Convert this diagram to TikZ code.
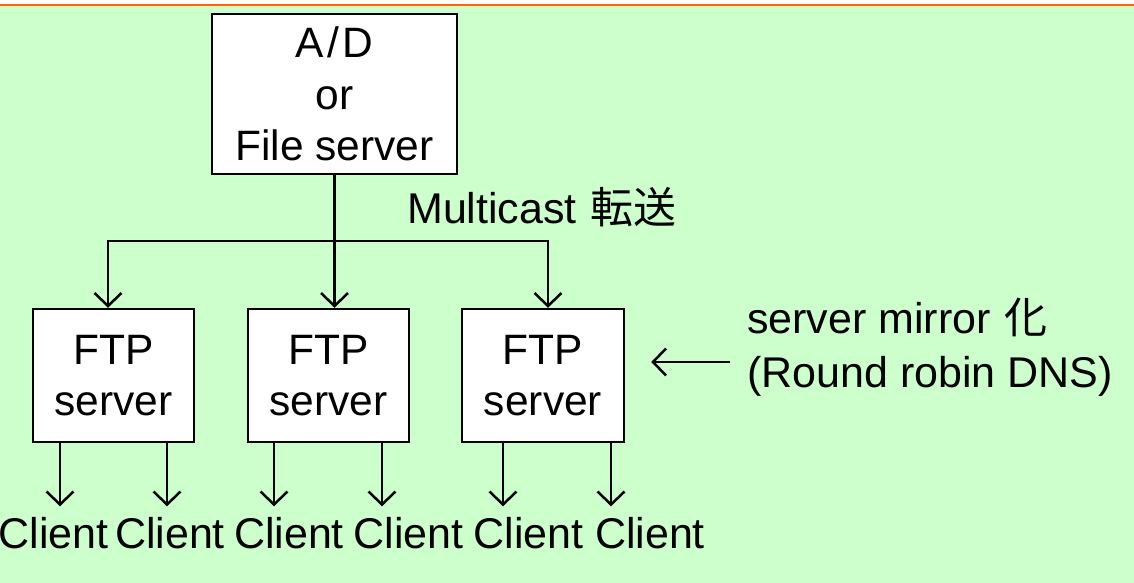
\documentclass[tikz,border=0pt]{standalone}
\usepackage{fontspec}
\setmainfont{Liberation Sans}
\newfontfamily\cjk{Noto Sans CJK JP}
\usetikzlibrary{arrows.meta}
\definecolor{bggreen}{RGB}{204,255,204}
\definecolor{topline}{RGB}{255,102,0}
\begin{document}
\begin{tikzpicture}[x=1pt,y=-1pt,
  lbl/.style={font=\fontsize{43}{52}\selectfont, inner sep=0pt},
  box/.style={draw=black, line width=2.5pt, fill=white, align=center,
    font=\fontsize{42.5}{51.5}\selectfont, inner sep=0pt},
  arr/.style={line width=2.5pt, -{Straight Barb[length=13pt,width=27pt]}},
  conn/.style={line width=2.5pt}]
\useasboundingbox (0,0) rectangle (1134,583);
\fill[white] (0,0) rectangle (1134,583);
\fill[bggreen] (0,5) rectangle (1134,583);
\draw[topline, line width=2.5pt] (0,5) -- (1134,5);

\node[box, minimum width=245pt, minimum height=160pt] (top) at (334.5,94)
  {A{\kern3.5pt}/{\kern3.5pt}D\\or\\File server};

\node[box, minimum width=161pt, minimum height=133pt] (f1) at (113.5,375.5) {FTP\\server};
\node[box, minimum width=161pt, minimum height=133pt] (f2) at (328.5,375.5) {FTP\\server};
\node[box, minimum width=162pt, minimum height=133pt] (f3) at (543,375.5) {FTP\\server};

\coordinate (hub) at (334.5,241);
\draw[conn] (top.south) -- (hub);
\draw[arr] (hub) -| ([xshift=-5.5pt]f1.north);
\draw[arr] (hub) -- (f2.north -| hub);
\draw[arr] (hub) -| ([xshift=5pt]f3.north);

\node[lbl, anchor=base west] (mc) at (407,223) {Multicast\kern14pt{\cjk 転送}};

\node[lbl, anchor=base west] (mir1) at (747,333) {server mirror\kern14pt{\cjk 化}};
\node[lbl, anchor=base west] (mir2) at (747,387) {(Round robin DNS)};
\coordinate (mirstart) at (730,362);
\draw[arr] (mirstart) -- ([xshift=26pt]f3.east |- mirstart);

\foreach \n/\x in {c1/53.5, c2/170, c3/289, c4/408.5, c5/528.5, c6/650}
  \node[lbl, anchor=base] (\n) at (\x,548) {Client};

\draw[arr] ([xshift=-53.5pt]f1.south) -- ++(0,63);
\draw[arr] ([xshift=53.5pt]f1.south) -- ++(0,63);
\draw[arr] ([xshift=-54.5pt]f2.south) -- ++(0,63);
\draw[arr] ([xshift=53.5pt]f2.south) -- ++(0,63);
\draw[arr] ([xshift=-40pt]f3.south) -- ++(0,63);
\draw[arr] ([xshift=68pt]f3.south) -- ++(0,63);
\end{tikzpicture}
\end{document}
